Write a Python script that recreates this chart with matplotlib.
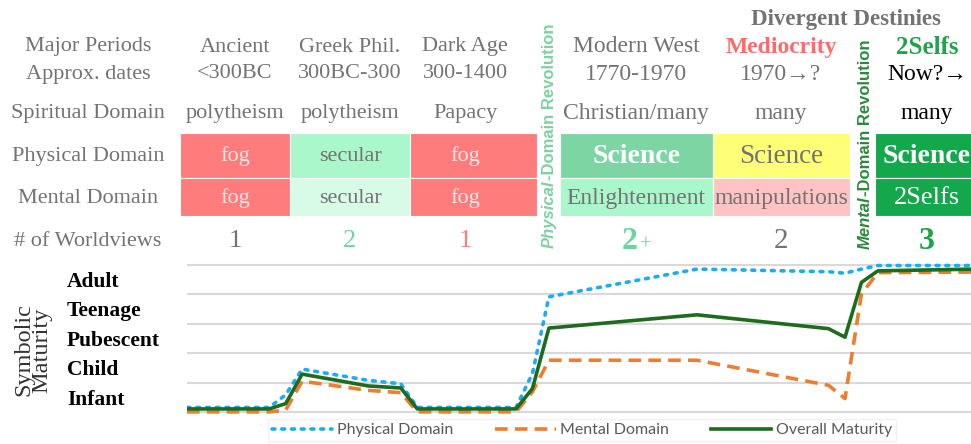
import numpy as np
import matplotlib.pyplot as plt
from matplotlib.patches import Rectangle
from matplotlib.lines import Line2D

plt.rcParams['font.family'] = ['Liberation Serif', 'DejaVu Serif']

# ---- table data ----
row_labels = ['Major Periods', 'Approx. dates', 'Spiritual Domain', 'Physical Domain',
              'Mental Domain', '# of Worldviews']
periods = ['Ancient', 'Greek Phil.', 'Dark Age', 'Modern West', 'Mediocrity', '2Selfs']
dates = ['<300BC', '300BC-300', '300-1400', '1770-1970', '1970\u2192?', 'Now?\u2192']
spiritual = ['polytheism', 'polytheism', 'Papacy', 'Christian/many', 'many', 'many']
physical = ['fog', 'secular', 'fog', 'Science', 'Science', 'Science']
mental = ['fog', 'secular', 'fog', 'Enlightenment', 'manipulations', '2Selfs']
worldviews = ['1', '2', '1', '2', '2', '3']

# ---- maturity lines (x = period index along the chart) ----
steps = [0, 5, 6, 7, 11, 13, 14, 20, 21, 22, 31, 39, 40, 41, 42, 48]
physical_mat = [0.17, 0.17, 0.60, 1.47, 1.09, 0.97, 0.17, 0.17, 1.32, 3.92, 4.86, 4.77, 4.72, 4.86, 4.98, 4.98]
mental_mat = [0.02, 0.02, 0.08, 1.06, 0.75, 0.67, 0.02, 0.02, 0.70, 1.77, 1.77, 0.92, 0.47, 4.02, 4.74, 4.76]
overall_mat = [0.12, 0.12, 0.30, 1.30, 0.90, 0.83, 0.12, 0.12, 0.81, 2.86, 3.31, 2.84, 2.55, 4.41, 4.80, 4.86]
maturity_levels = ['Infant', 'Child', 'Pubescent', 'Teenage', 'Adult']

gray = '#737373'
fig = plt.figure(figsize=(9.71, 4.44), dpi=100)

# overlay in pixel coords for the table part
ax_t = fig.add_axes([0, 0, 1, 1])
ax_t.set_xlim(0, 971)
ax_t.set_ylim(444, 0)
ax_t.axis('off')

text_x = [235, 350, 465, 636, 781, 927]
cell_edges = [(180, 290), (290, 410), (410, 537), (560, 713), (713, 850), (875, 985)]
phys_colors = ['#FF7C7C', '#AAF7CB', '#FF7C7C', '#7DD5A4', '#FFFF77', '#12A84B']
ment_colors = ['#FF7C7C', '#D7FBE6', '#FF7C7C', '#AAF7CB', '#FFC3C3', '#12A84B']
row_y = [47, 74, 113, 156, 198, 241]
fs_lab = 16
font_sizes = [16, 16, 16, 17, 17, 17]

for lab, y in zip(row_labels, row_y):
    ax_t.text(88, y, lab, ha='center', va='center', fontsize=fs_lab, color=gray)

for i, x in enumerate(text_x):
    fs = font_sizes[i]
    (x0, x1) = cell_edges[i]
    ax_t.add_patch(Rectangle((x0, 133), x1 - x0, 45, facecolor=phys_colors[i], edgecolor='white', lw=0.8))
    ax_t.add_patch(Rectangle((x0, 178), x1 - x0, 38, facecolor=ment_colors[i], edgecolor='white', lw=0.8))

    # headers
    if i == 4:
        ax_t.text(x, row_y[0], periods[i], ha='center', va='center', fontsize=17,
                  color='#FF6B6B', fontweight='bold')
    elif i == 5:
        ax_t.text(x, row_y[0], periods[i], ha='center', va='center', fontsize=18,
                  color='#1FA34A', fontweight='bold')
    else:
        ax_t.text(x, row_y[0], periods[i], ha='center', va='center', fontsize=fs, color=gray)
    dcol = 'black' if i == 5 else gray
    ax_t.text(x, row_y[1], dates[i], ha='center', va='center', fontsize=fs, color=dcol)
    ax_t.text(x, row_y[2], spiritual[i], ha='center', va='center', fontsize=fs, color=dcol)

    # physical row
    if physical[i] == 'fog':
        ax_t.text(x, row_y[3], 'fog', ha='center', va='center', fontsize=fs, color='#FFE4E4')
    elif i in (3, 5):
        ax_t.text(x, row_y[3], physical[i], ha='center', va='center', fontsize=20,
                  color='white', fontweight='bold')
    elif i == 4:
        ax_t.text(x, row_y[3], physical[i], ha='center', va='center', fontsize=19.5, color=gray)
    else:
        ax_t.text(x, row_y[3], physical[i], ha='center', va='center', fontsize=fs, color=gray)

    # mental row
    if mental[i] == 'fog':
        ax_t.text(x, row_y[4], 'fog', ha='center', va='center', fontsize=fs, color='#FFE4E4')
    elif i == 5:
        ax_t.text(x, row_y[4], mental[i], ha='center', va='center', fontsize=19, color='white')
    else:
        ax_t.text(x, row_y[4], mental[i], ha='center', va='center', fontsize=fs, color=gray)

# worldviews row
wv_colors = [gray, '#6FD39C', '#FF7C7C', '#6FD39C', gray, '#1FA34A']
for i, x in enumerate(text_x):
    if i == 3:
        ax_t.text(x - 6, row_y[5], worldviews[i], ha='center', va='center', fontsize=23,
                  color=wv_colors[i], fontweight='bold')
        ax_t.text(x + 10, row_y[5] + 4, '+', ha='center', va='center', fontsize=15,
                  color=wv_colors[i])
    elif i == 5:
        ax_t.text(x, row_y[5], worldviews[i], ha='center', va='center', fontsize=23,
                  color=wv_colors[i], fontweight='bold')
    else:
        ax_t.text(x, row_y[5], worldviews[i], ha='center', va='center',
                  fontsize=21 if i == 4 else 19, color=wv_colors[i])

ax_t.text(846, 20, 'Divergent Destinies', ha='center', va='center', fontsize=16.5,
          color=gray, fontweight='bold')

# vertical revolution labels
ax_t.text(549, 180, 'Physical', rotation=90, rotation_mode='anchor', ha='right', va='center',
          fontsize=12, family='Liberation Sans', fontweight='bold', fontstyle='italic', color='#7FD1A0')
ax_t.text(549, 180, '-Domain Revolution', rotation=90, rotation_mode='anchor', ha='left', va='center',
          fontsize=12, family='Liberation Sans', fontweight='bold', color='#7FD1A0')
ax_t.text(865, 196, 'Mental', rotation=90, rotation_mode='anchor', ha='right', va='center',
          fontsize=12, family='Liberation Sans', fontweight='bold', fontstyle='italic', color='#2A8A3A')
ax_t.text(865, 196, '-Domain Revolution', rotation=90, rotation_mode='anchor', ha='left', va='center',
          fontsize=12, family='Liberation Sans', fontweight='bold', color='#2A8A3A')

# maturity labels
for k, lvl in enumerate(maturity_levels):
    yv = 412.5 - (k + 0.43) * 29.5
    ax_t.text(67, yv, lvl, ha='left', va='center', fontsize=15.5, fontweight='bold', color='black')
ax_t.text(33, 350, 'Symbolic\nMaturity', rotation=90, ha='center', va='center', fontsize=17.5,
          color='#333333', linespacing=0.8)

# ---- line chart ----
ax = fig.add_axes([187 / 971, (444 - 416) / 444, (971 - 187) / 971, (416 - 262) / 444])
ax.set_facecolor('none')
ax.set_xlim(0, 47.66)
ax.set_ylim(-0.12, 5.1)
for g in range(6):
    ax.axhline(g, color='#D9D9D9', lw=1.5, zorder=0)
ax.plot(steps, physical_mat, color='#1AADF0', lw=2.6, linestyle=(0, (0.8, 1.9)),
        dash_capstyle='round', label='Physical Domain')
ax.plot(steps, mental_mat, color='#ED7D31', lw=2.6, linestyle=(0, (3.5, 2)), label='Mental Domain')
ax.plot(steps, overall_mat, color='#1E6B1E', lw=2.6, label='Overall Maturity')
ax.axis('off')

handles = [
    Line2D([], [], color='#1AADF0', lw=2.6, linestyle=(0, (0.8, 1.9)), dash_capstyle='round'),
    Line2D([], [], color='#ED7D31', lw=2.6, linestyle=(0, (3.5, 2))),
    Line2D([], [], color='#1E6B1E', lw=2.6),
]
leg = fig.legend(handles, ['Physical Domain', 'Mental Domain', 'Overall Maturity'],
                 loc='lower center', bbox_to_anchor=(582 / 971, -0.012), ncol=3,
                 frameon=True, fancybox=False, edgecolor='#EEEEEE', handlelength=3.8,
                 columnspacing=2.6, handletextpad=0.3, borderpad=0.25,
                 prop={'family': 'Lato', 'size': 11.5})
for t in leg.get_texts():
    t.set_color('#595959')

fig.savefig('out.png', dpi=100)
